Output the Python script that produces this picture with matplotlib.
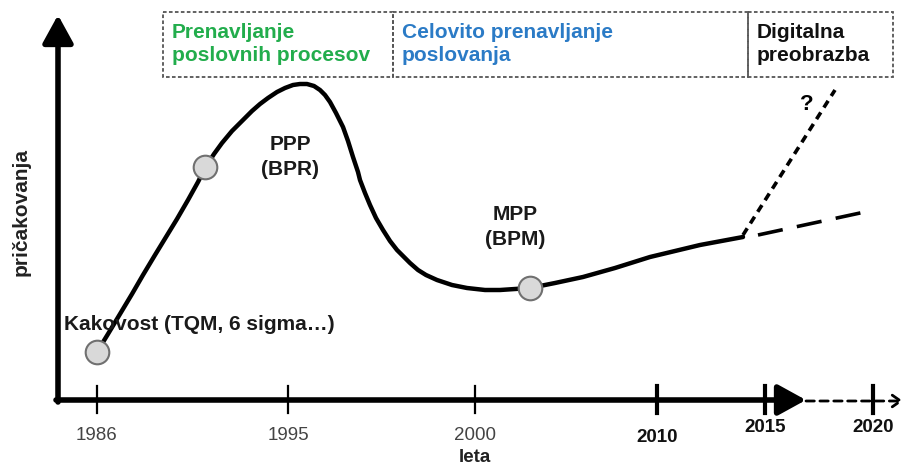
import matplotlib
matplotlib.use("Agg")
import matplotlib.pyplot as plt
from matplotlib.patches import Rectangle

# schematic, everything in picture pixels (x right, y down)
curve_x = [97, 108, 120, 132, 143, 155, 166, 177, 188, 198, 205, 214, 222, 232, 243,
           252, 260, 268, 277, 285, 293, 300, 307, 314, 320, 325, 330, 336, 343, 348,
           353, 358, 360, 365, 370, 376, 383, 390, 397, 404, 410, 418, 426, 437, 452,
           467, 485, 500, 515, 530, 555, 583, 615, 650, 700, 743]
curve_y = [352, 334, 314, 294, 275, 255, 237, 219, 200, 182, 168, 154, 143, 131, 120,
           111, 104, 98, 92, 88, 85, 84, 84, 86, 90, 95, 102, 113, 127, 141,
           157, 172, 180, 193, 205, 218, 230, 241, 250, 257, 263, 270, 275, 280, 285,
           288, 290, 290, 289, 288, 283, 277, 268, 257, 245, 237]

marker_x = [97, 205, 530]
marker_y = [352, 167, 288]

slow_x = [758, 874]   # long dashes
slow_y = [235, 210]
fast_x = [743, 835]   # short dashes ("?")
fast_y = [235, 90]

tick_x = [97, 288, 475, 657, 765, 873]
tick_labels = ["1986", "1995", "2000", "2010", "2015", "2020"]
tick_label_y = [435, 435, 435, 437, 427, 427]
tick_bold = [False, False, False, True, True, True]

phases = ["Prenavljanje\nposlovnih procesov", "Celovito prenavljanje\nposlovanja",
          "Digitalna\npreobrazba"]
phase_edges = [163, 393, 748, 893]
phase_colors = ["#22ad4c", "#2b7bc6", "#111111"]

labels = ["PPP\n(BPR)", "MPP\n(BPM)", "Kakovost (TQM, 6 sigma…)"]
label_xy = [(290, 157), (515, 227), (64, 325)]

plt.rcParams['font.family'] = ['Liberation Sans', 'DejaVu Sans']

fig = plt.figure(figsize=(9.04, 4.68), dpi=100)
ax = fig.add_axes([0, 0, 1, 1])
ax.set_xlim(0, 904)
ax.set_ylim(468, 0)
ax.axis("off")

# axes with arrows
head = "-|>,head_length=1.0,head_width=0.55"
ax.annotate("", xy=(58, 15), xytext=(58, 402),
            arrowprops=dict(arrowstyle=head, lw=4, color="black",
                            shrinkA=0, shrinkB=0, mutation_scale=17))
ax.annotate("", xy=(806, 400), xytext=(56, 400),
            arrowprops=dict(arrowstyle=head, lw=4, color="black",
                            shrinkA=0, shrinkB=0, mutation_scale=17))
ax.annotate("", xy=(903, 401), xytext=(806, 401),
            arrowprops=dict(arrowstyle="->,head_length=0.5,head_width=0.35",
                            lw=2, color="black", ls=(0, (3, 2)), shrinkA=0, shrinkB=0,
                            mutation_scale=12))
ax.plot([662, 760], [401.5, 401.5], color="white", lw=0.8, ls=(0, (3, 2)))

for i, (tx, lab) in enumerate(zip(tick_x, tick_labels)):
    ax.plot([tx, tx], [386, 413], color="black", lw=3 if tick_bold[i] else 1.6)
    ax.text(tx, tick_label_y[i], lab, ha="center", va="center", fontsize=13.5,
            fontweight="bold" if tick_bold[i] else "normal",
            color="#111111" if tick_bold[i] else "#444444")

ax.text(475, 458, "leta", ha="center", va="center", fontsize=13.5, fontweight="bold",
        color="#222222")
ax.text(21, 212, "pričakovanja", ha="center", va="center", rotation=90,
        fontsize=15, fontweight="bold", color="#222222")

# curve and scenarios
ax.plot(curve_x, curve_y, color="black", lw=3.2, solid_capstyle="round",
        solid_joinstyle="round")
ax.plot(slow_x, slow_y, color="black", lw=2.6, ls=(0, (7, 4)))
ax.plot(fast_x, fast_y, color="black", lw=2.6, ls=(0, (2.2, 1.6)))
ax.text(807, 104, "?", ha="center", va="center", fontsize=16, fontweight="bold")
ax.plot(marker_x, marker_y, "o", ms=17, mfc="#d9d9d9", mec="#707070", mew=1.5, ls="none")

for (lx, ly), lab in zip(label_xy, labels):
    ha = "left" if lab.startswith("Kakovost") else "center"
    ax.text(lx, ly, lab, ha=ha, va="center", fontsize=15, fontweight="bold",
            color="#1a1a1a", linespacing=1.45)

# phase boxes
for i, name in enumerate(phases):
    x0, x1 = phase_edges[i], phase_edges[i + 1]
    ax.add_patch(Rectangle((x0, 12), x1 - x0, 65, fill=False, ec="#555555", lw=1.3,
                           ls=(0, (2, 1.3))))
    ax.text(x0 + 9, 44, name, ha="left", va="center", fontsize=15, fontweight="bold",
            color=phase_colors[i], linespacing=1.3)

fig.savefig("out.png", dpi=100)
